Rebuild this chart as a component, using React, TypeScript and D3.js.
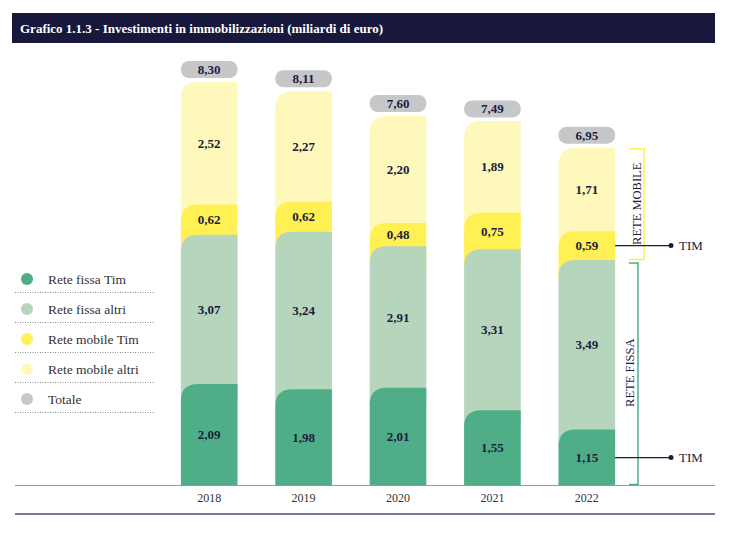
import React from "react";
import * as d3 from "d3";

const years = ["2018", "2019", "2020", "2021", "2022"];
const fissaTim = [2.09, 1.98, 2.01, 1.55, 1.15];
const fissaAltri = [3.07, 3.24, 2.91, 3.31, 3.49];
const mobileTim = [0.62, 0.62, 0.48, 0.75, 0.59];
const mobileAltri = [2.52, 2.27, 2.2, 1.89, 1.71];
const totals = [8.3, 8.11, 7.6, 7.49, 6.95];
const legendLabels = ["Rete fissa Tim", "Rete fissa altri", "Rete mobile Tim", "Rete mobile altri", "Totale"];

const COLORS = ["#4fae88", "#b6d5bd", "#fff153", "#fff8bb", "#c6c7c9"];
const NAVY = "#1b1c40";
const SERIF = "'Liberation Serif', 'DejaVu Serif', serif";
const R = 17;

const fmt = (v: number) => v.toFixed(2).replace(".", ",");

function topLeftRounded(x: number, y: number, w: number, h: number, r: number) {
  const rr = Math.min(r, h, w);
  return `M${x},${y + h} L${x},${y + rr} Q${x},${y} ${x + rr},${y} L${x + w},${y} L${x + w},${y + h} Z`;
}

export default function App() {
  const W = 753, H = 540;
  const baseY = 485.5;
  const x = d3.scaleBand().domain(years).range([162, 634]).paddingInner(0.4).paddingOuter(0.2);
  const y = d3.scaleLinear().domain([0, 8.3]).range([baseY, 82]);
  const bw = x.bandwidth();
  const series = [fissaTim, fissaAltri, mobileTim, mobileAltri];

  const last = years.length - 1;
  const lx = (x(years[last]) as number) + bw;
  const cumLast = [0, 1, 2, 3].map((k) => series.slice(0, k + 1).reduce((s, a) => s + a[last], 0));
  const timMobY = (y(cumLast[1]) + y(cumLast[2])) / 2;
  const timFissaY = (y(0) + y(cumLast[0])) / 2;

  return (
    <svg width={W} height={H} style={{ position: "absolute", left: 0, top: 0 }} fontFamily={SERIF}>
      <rect x={0} y={0} width={W} height={H} fill="#fff" />
      <rect x={12} y={13} width={703} height={30} fill="#17183b" />
      <text x={20} y={33} fill="#fff" fontSize={13} fontWeight="bold">
        Grafico 1.1.3 - Investimenti in immobilizzazioni (miliardi di euro)
      </text>

      {years.map((yr, i) => {
        const x0 = x(yr) as number;
        const cum = [0, 1, 2, 3].map((k) => series.slice(0, k + 1).reduce((s, a) => s + a[i], 0));
        return (
          <g key={yr}>
            {[3, 2, 1, 0].map((k) => {
              const top = y(cum[k]);
              const bottom = k === 0 ? baseY : Math.min(baseY, y(cum[k - 1]) + R);
              return <path key={k} d={topLeftRounded(x0, top, bw, bottom - top, R)} fill={COLORS[k]} />;
            })}
            {[0, 1, 2, 3].map((k) => {
              const lo = k === 0 ? 0 : cum[k - 1];
              const cy = (y(lo) + y(cum[k])) / 2;
              return (
                <text key={k} x={x0 + bw / 2} y={cy + 4.5} textAnchor="middle" fontSize={13} fontWeight="bold" fill={NAVY}>
                  {fmt(series[k][i])}
                </text>
              );
            })}
            <rect x={x0} y={y(totals[i]) - 21} width={bw} height={17} rx={8} fill={COLORS[4]} />
            <text x={x0 + bw / 2} y={y(totals[i]) - 8} textAnchor="middle" fontSize={13} fontWeight="bold" fill={NAVY}>
              {fmt(totals[i])}
            </text>
            <text x={x0 + bw / 2} y={502} textAnchor="middle" fontSize={12} fill="#333">
              {yr}
            </text>
          </g>
        );
      })}

      <line x1={15} x2={715} y1={baseY} y2={baseY} stroke="#9a9a9a" strokeWidth={1} />
      <line x1={15} x2={715} y1={514} y2={514} stroke="#4b4e7c" strokeWidth={1.5} />

      {legendLabels.map((lab, i) => (
        <g key={lab}>
          <circle cx={27} cy={279 + i * 30} r={6} fill={COLORS[i]} />
          <text x={48} y={283.5 + i * 30} fontSize={13.5} fill="#333">
            {lab}
          </text>
          <line x1={15} x2={154} y1={292.5 + i * 30} y2={292.5 + i * 30} stroke="#888" strokeDasharray="1,1.5" />
        </g>
      ))}

      {/* Rete mobile bracket */}
      <path d={`M629,${y(totals[last]) + 1}H644V${y(cumLast[1]) - 0.5}H629`} fill="none" stroke="#fff153" strokeWidth={1.5} />
      <text transform={`translate(641,${(y(totals[last]) + y(cumLast[1])) / 2}) rotate(-90)`} textAnchor="middle" fontSize={12.5} fill={NAVY}>
        RETE MOBILE
      </text>
      {/* Rete fissa bracket */}
      <path d={`M629,${y(cumLast[1]) + 3}H638V${baseY - 1}H629`} fill="none" stroke="#4fae88" strokeWidth={1.5} />
      <text transform={`translate(634,${(y(cumLast[1]) + baseY) / 2}) rotate(-90)`} textAnchor="middle" fontSize={12.5} fill={NAVY}>
        RETE FISSA
      </text>

      {[timMobY, timFissaY].map((ty, i) => (
        <g key={i}>
          <line x1={lx} x2={671} y1={ty} y2={ty} stroke={NAVY} strokeWidth={1.2} />
          <circle cx={671} cy={ty} r={2.5} fill={NAVY} />
          <text x={679} y={ty + 4.5} fontSize={13} fill={NAVY}>
            TIM
          </text>
        </g>
      ))}
    </svg>
  );
}
